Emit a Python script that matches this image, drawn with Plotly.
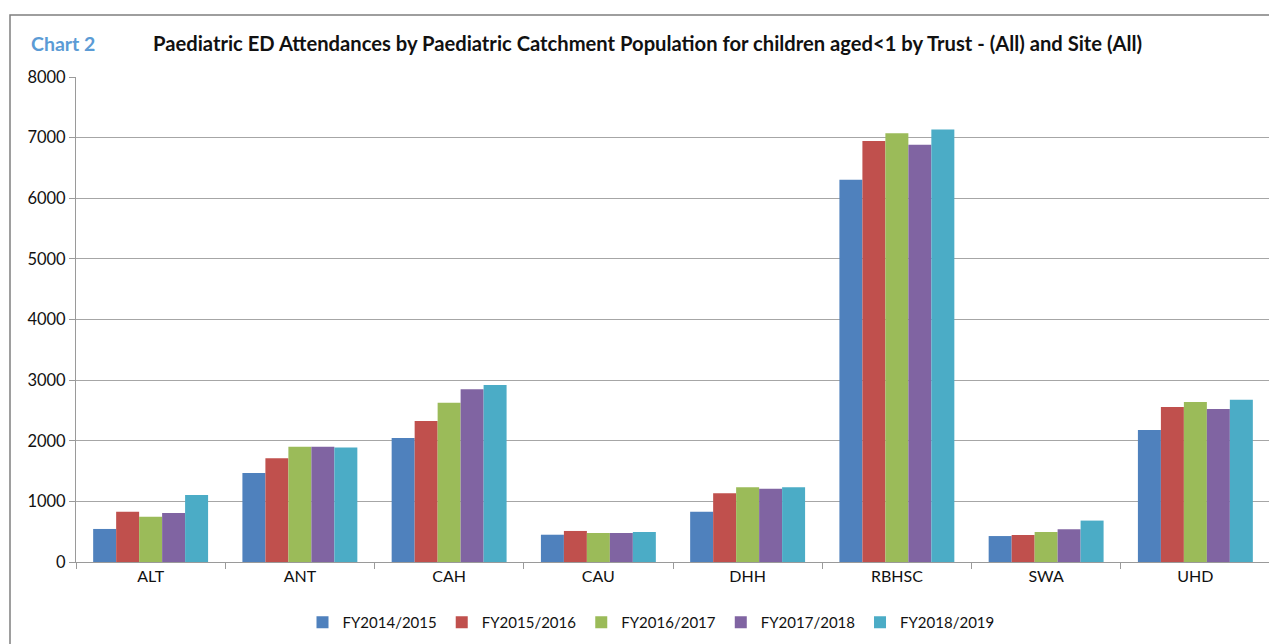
import plotly.graph_objects as go

categories = ["ALT", "ANT", "CAH", "CAU", "DHH", "RBHSC", "SWA", "UHD"]
series_names = ["FY2014/2015", "FY2015/2016", "FY2016/2017", "FY2017/2018", "FY2018/2019"]
fy2014 = [545, 1467, 2045, 450, 828, 6305, 428, 2178]
fy2015 = [828, 1712, 2325, 512, 1133, 6943, 445, 2557]
fy2016 = [745, 1900, 2628, 478, 1233, 7072, 495, 2640]
fy2017 = [810, 1900, 2850, 478, 1207, 6883, 540, 2523]
fy2018 = [1107, 1890, 2920, 495, 1233, 7133, 683, 2678]
y_ticks = [0, 1000, 2000, 3000, 4000, 5000, 6000, 7000, 8000]

colors = ["#4F81BD", "#C0504D", "#9BBB59", "#8064A2", "#4BACC6"]
FONT = "Lato, 'Open Sans', sans-serif"

fig = go.Figure()
for name, vals, c in zip(series_names, [fy2014, fy2015, fy2016, fy2017, fy2018], colors):
    fig.add_trace(go.Bar(x=categories, y=vals, name=name, marker=dict(color=c, line=dict(width=0))))

# page has an 8px body margin; figure is sized to fit inside the window
OFF = 8
W, H = 1277 - OFF, 644 - OFF
L = 76 - OFF
T = 77 - OFF
R = W - (1270 - OFF)
B = H - (562 - OFF)
pw = W - L - R
ph = H - T - B


def px(x):
    return (x - OFF - L) / pw


def py(y):
    return (H - B - (y - OFF)) / ph


fig.update_layout(
    width=W, height=H, autosize=False,
    margin=dict(l=L, r=R, t=T, b=B, autoexpand=False),
    paper_bgcolor="white", plot_bgcolor="white",
    barmode="group", bargap=0.23, bargroupgap=0,
    font=dict(family=FONT, size=15, color="#111"),
    xaxis=dict(showline=True, linecolor="#9A9A9A", linewidth=1, ticks="outside",
               tickson="boundaries", ticklen=6, tickcolor="#9A9A9A", automargin=False,
               tickfont=dict(size=16, color="#111")),
    yaxis=dict(range=[0, 8000], tickvals=y_ticks, showgrid=True, gridcolor="#A6A6A6",
               gridwidth=1, showline=True, linecolor="#9A9A9A", ticks="outside", ticklen=6,
               tickcolor="#9A9A9A", tickfont=dict(size=16.5, color="#111"), zeroline=False,
               automargin=False),
    legend=dict(orientation="h", x=px(651), xanchor="center", yref="container",
                y=(H - (606 - OFF)) / H, yanchor="top",
                font=dict(size=15, color="#111"), itemwidth=30, traceorder="normal"),
    showlegend=True,
)

fig.add_annotation(text="<b>Chart 2</b>", xref="paper", yref="paper",
                   x=px(29), y=py(43), xanchor="left", yanchor="middle",
                   showarrow=False, font=dict(size=19.5, color="#5B9BD5", family=FONT))
fig.add_annotation(text="<b>Paediatric ED Attendances by Paediatric Catchment Population for children aged<1 by Trust - (All) and Site (All)</b>",
                   xref="paper", yref="paper",
                   x=px(151), y=py(43), xanchor="left", yanchor="middle",
                   showarrow=False, font=dict(size=20.2, color="#111", family=FONT))

fig.add_shape(type="rect", xref="paper", yref="paper",
              x0=px(10), x1=px(1300),
              y0=py(680), y1=py(15),
              line=dict(color="#7F7F7F", width=1.5), fillcolor="rgba(0,0,0,0)", layer="below")

fig.write_html("out.html")
